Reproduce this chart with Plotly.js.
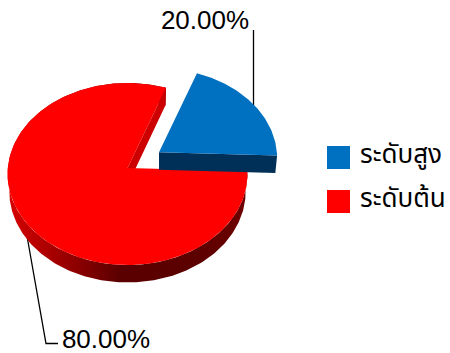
<!DOCTYPE html>
<html>
<head>
<meta charset="utf-8">
<script src="https://cdn.plot.ly/plotly-3.0.1.min.js"></script>
<style>html,body{margin:0;padding:0;background:#fff}#chart{width:450px;height:353px}</style>
</head>
<body>
<div id="chart"></div>
<script>
// Chart data
const categories = ['ระดับสูง', 'ระดับต้น'];
const shares = [20, 80];
const sliceColors = ['#0070C0', '#FF0000'];
const innerWallColors = ['#003058', '#CC0000'];

// Perspective pie geometry, in plot units (plot area equals the page in pixels)
const apex = {x: 127.5, y: 168};
const radiusX = 119.7, radiusY = 90.6, perspective = 0.066;
const depth = 17.5, depthScale = 0.985;
const startDeg = -2;
const explode = {x: 31.5, y: -15.7, scale: 0.985};

const total = shares.reduce((a, b) => a + b, 0);
const blueSweep = shares[0] / total * 360;
const redSweep = shares[1] / total * 360;

function project(deg, off) {
  const r = deg * Math.PI / 180;
  const u = Math.cos(r), v = Math.sin(r);
  const s = off.scale / (1 + perspective * v);
  return {x: apex.x + radiusX * u * s + off.x, y: apex.y - radiusY * v * s + off.y};
}
function lowered(p, off) {
  const ox = apex.x + off.x;
  return {x: ox + (p.x - ox) * depthScale, y: p.y + depth};
}
function arc(from, to, off) {
  const pts = [];
  const n = Math.max(8, Math.round(Math.abs(to - from)));
  for (let i = 0; i <= n; i++) pts.push(project(from + (to - from) * i / n, off));
  return pts;
}
function poly(pts, extra) {
  return Object.assign({
    x: pts.map(p => p.x), y: pts.map(p => p.y),
    mode: 'lines', fill: 'toself', line: {width: 0}, hoverinfo: 'skip', showlegend: false
  }, extra);
}
function leader(xs, ys) {
  return {x: xs, y: ys, mode: 'lines', line: {color: '#000', width: 1.3}, hoverinfo: 'skip', showlegend: false};
}

const none = {x: 0, y: 0, scale: 1};
const apexRed = {x: apex.x, y: apex.y};
const blueStart = startDeg, blueEnd = startDeg + blueSweep;

// Red slice: outer band, wall of the cut, top face
const redArc = arc(blueEnd, blueEnd + redSweep, none);
const redBand = redArc.concat(redArc.slice().reverse().map(p => lowered(p, none)));
const redCorner = project(blueEnd, none);
const redWall = [apexRed, redCorner, lowered(redCorner, none), {x: apex.x, y: apex.y + depth}];
const redTop = [apexRed].concat(redArc);

// Blue slice pulled out of the pie: front wall and top face
const blueApex = {x: apex.x + explode.x, y: apex.y + explode.y};
const blueArc = arc(blueStart, blueEnd, explode);
const blueCorner = blueArc[0];
const blueWall = [blueApex, blueCorner, lowered(blueCorner, explode), {x: blueApex.x, y: blueApex.y + depth}];
const blueTop = [blueApex].concat(blueArc);

const fontLatin = '"Liberation Sans", Arial, sans-serif';
const fontThai = '"Noto Sans Thai", "Noto Sans", "Liberation Sans", sans-serif';
const pct = shares.map(v => (v / total * 100).toFixed(2) + '%');

const traces = [
  leader([253.5, 253.5], [30, 106]),
  leader([27, 46, 58], [236, 343.5, 343.5]),
  poly(redBand, {
    fillgradient: {
      type: 'horizontal', start: 8, stop: 246,
      colorscale: [[0, '#D80000'], [0.15, '#B00000'], [0.3, '#8A0000'], [0.47, '#5A0000'], [0.8, '#5C0000'], [1, '#6E0000']]
    }
  }),
  poly(redWall, {fillcolor: innerWallColors[1]}),
  poly(redTop, {fillcolor: sliceColors[1]}),
  poly(blueWall, {fillcolor: innerWallColors[0]}),
  poly(blueTop, {fillcolor: sliceColors[0]}),
  {x: [205, 106], y: [22, 341], mode: 'text', text: pct, textposition: 'middle center',
   textfont: {family: fontLatin, size: 26, color: '#000'}, hoverinfo: 'skip', showlegend: false},
  {x: [338.5, 338.5], y: [157.5, 201.5], mode: 'markers',
   marker: {symbol: 'square', size: 23, color: sliceColors, line: {width: 0}},
   hoverinfo: 'skip', showlegend: false},
  {x: [360, 360], y: [156.5, 200.5], mode: 'text', text: categories, textposition: 'middle right',
   textfont: {family: fontThai, size: 26, color: '#000'}, hoverinfo: 'skip', showlegend: false}
];

const layout = {
  width: 450, height: 353,
  margin: {l: 0, r: 0, t: 0, b: 0},
  paper_bgcolor: '#fff', plot_bgcolor: '#fff',
  showlegend: false,
  xaxis: {range: [0, 450], visible: false, fixedrange: true},
  yaxis: {range: [353, 0], visible: false, fixedrange: true}
};

Plotly.newPlot('chart', traces, layout, {displayModeBar: false, staticPlot: true});
</script>
</body>
</html>
